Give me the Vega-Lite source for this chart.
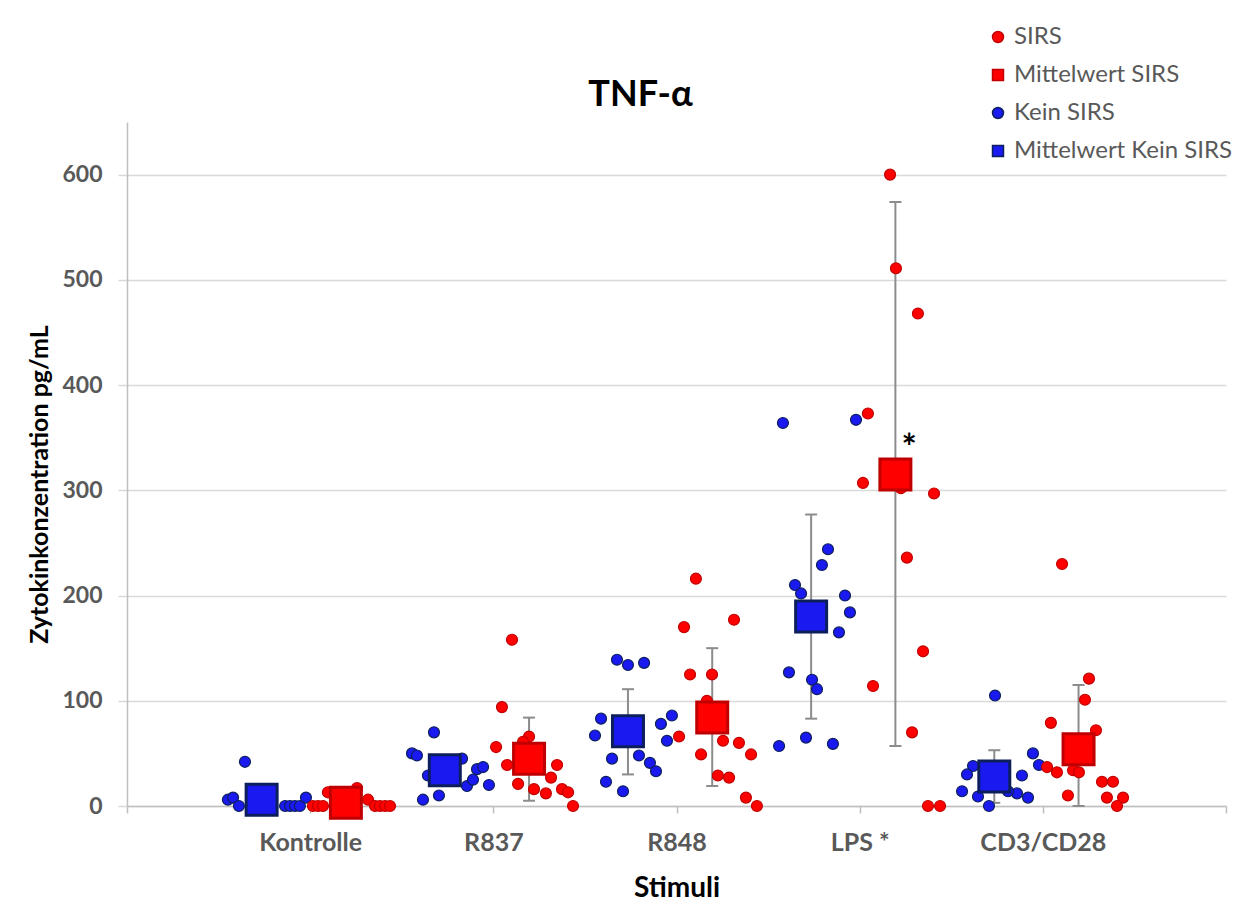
{
  "$schema": "https://vega.github.io/schema/vega-lite/v6.json",
  "width": 1099,
  "height": 684,
  "autosize": {"type": "none"},
  "padding": {"left": 127, "top": 122, "right": 25, "bottom": 108},
  "background": "white",
  "config": {
    "font": "Lato",
    "view": {"stroke": null},
    "axisX": {
      "titleFontSize": 28, "titleFontWeight": "bold", "titleColor": "#000000", "titlePadding": 19, "titleFont": "Lato",
      "labelFontSize": 25, "labelFontWeight": "bold", "labelColor": "#595959", "labelPadding": 17, "labelFont": "Lato",
      "labelFlush": false, "labelOverlap": false,
      "tickSize": 7, "tickColor": "#bfbfbf", "tickWidth": 1.5,
      "domainColor": "#bfbfbf", "domainWidth": 1.5, "grid": false
    },
    "axisY": {
      "titleFontSize": 25, "titleFontWeight": "bold", "titleColor": "#000000", "titlePadding": 9, "titleFont": "Lato",
      "labelFontSize": 23, "labelFontWeight": "bold", "labelColor": "#595959", "labelPadding": 16, "labelFont": "Lato",
      "tickSize": 9, "tickColor": "#d9d9d9", "tickWidth": 1.5,
      "domainColor": "#bfbfbf", "domainWidth": 1.5,
      "grid": true, "gridColor": "#d9d9d9", "gridWidth": 1.5
    }
  },
  "title": {"text": "TNF-α", "fontSize": 36, "fontWeight": "bold", "color": "#000000", "anchor": "middle", "dx": -36, "offset": -89, "font": "Lato"},
  "datasets": {
    "points": [
      {"group": "Kein SIRS", "stimulus": "Kontrolle", "x": 0.551, "y": 6},
      {"group": "Kein SIRS", "stimulus": "Kontrolle", "x": 0.579, "y": 8},
      {"group": "Kein SIRS", "stimulus": "Kontrolle", "x": 0.611, "y": 0},
      {"group": "Kein SIRS", "stimulus": "Kontrolle", "x": 0.644, "y": 42},
      {"group": "Kein SIRS", "stimulus": "Kontrolle", "x": 0.863, "y": 0},
      {"group": "Kein SIRS", "stimulus": "Kontrolle", "x": 0.890, "y": 0},
      {"group": "Kein SIRS", "stimulus": "Kontrolle", "x": 0.917, "y": 0},
      {"group": "Kein SIRS", "stimulus": "Kontrolle", "x": 0.944, "y": 0},
      {"group": "Kein SIRS", "stimulus": "Kontrolle", "x": 0.977, "y": 8},
      {"group": "SIRS", "stimulus": "Kontrolle", "x": 1.015, "y": 0},
      {"group": "SIRS", "stimulus": "Kontrolle", "x": 1.043, "y": 0},
      {"group": "SIRS", "stimulus": "Kontrolle", "x": 1.070, "y": 0},
      {"group": "SIRS", "stimulus": "Kontrolle", "x": 1.097, "y": 13},
      {"group": "SIRS", "stimulus": "Kontrolle", "x": 1.256, "y": 17},
      {"group": "SIRS", "stimulus": "Kontrolle", "x": 1.316, "y": 6},
      {"group": "SIRS", "stimulus": "Kontrolle", "x": 1.354, "y": 0},
      {"group": "SIRS", "stimulus": "Kontrolle", "x": 1.381, "y": 0},
      {"group": "SIRS", "stimulus": "Kontrolle", "x": 1.409, "y": 0},
      {"group": "SIRS", "stimulus": "Kontrolle", "x": 1.436, "y": 0},
      {"group": "Kein SIRS", "stimulus": "R837", "x": 1.556, "y": 50},
      {"group": "Kein SIRS", "stimulus": "R837", "x": 1.583, "y": 48},
      {"group": "Kein SIRS", "stimulus": "R837", "x": 1.676, "y": 70},
      {"group": "Kein SIRS", "stimulus": "R837", "x": 1.643, "y": 29},
      {"group": "Kein SIRS", "stimulus": "R837", "x": 1.616, "y": 6},
      {"group": "Kein SIRS", "stimulus": "R837", "x": 1.703, "y": 10},
      {"group": "Kein SIRS", "stimulus": "R837", "x": 1.829, "y": 45},
      {"group": "Kein SIRS", "stimulus": "R837", "x": 1.856, "y": 19},
      {"group": "Kein SIRS", "stimulus": "R837", "x": 1.889, "y": 25},
      {"group": "Kein SIRS", "stimulus": "R837", "x": 1.911, "y": 35},
      {"group": "Kein SIRS", "stimulus": "R837", "x": 1.944, "y": 37},
      {"group": "Kein SIRS", "stimulus": "R837", "x": 1.976, "y": 20},
      {"group": "SIRS", "stimulus": "R837", "x": 2.102, "y": 158},
      {"group": "SIRS", "stimulus": "R837", "x": 2.047, "y": 94},
      {"group": "SIRS", "stimulus": "R837", "x": 2.015, "y": 56},
      {"group": "SIRS", "stimulus": "R837", "x": 2.075, "y": 39},
      {"group": "SIRS", "stimulus": "R837", "x": 2.135, "y": 21},
      {"group": "SIRS", "stimulus": "R837", "x": 2.195, "y": 66},
      {"group": "SIRS", "stimulus": "R837", "x": 2.162, "y": 61},
      {"group": "SIRS", "stimulus": "R837", "x": 2.222, "y": 16},
      {"group": "SIRS", "stimulus": "R837", "x": 2.287, "y": 12},
      {"group": "SIRS", "stimulus": "R837", "x": 2.315, "y": 27},
      {"group": "SIRS", "stimulus": "R837", "x": 2.348, "y": 39},
      {"group": "SIRS", "stimulus": "R837", "x": 2.375, "y": 16},
      {"group": "SIRS", "stimulus": "R837", "x": 2.408, "y": 13},
      {"group": "SIRS", "stimulus": "R837", "x": 2.435, "y": 0},
      {"group": "Kein SIRS", "stimulus": "R848", "x": 2.675, "y": 139},
      {"group": "Kein SIRS", "stimulus": "R848", "x": 2.735, "y": 134},
      {"group": "Kein SIRS", "stimulus": "R848", "x": 2.823, "y": 136},
      {"group": "Kein SIRS", "stimulus": "R848", "x": 2.588, "y": 83},
      {"group": "Kein SIRS", "stimulus": "R848", "x": 2.555, "y": 67},
      {"group": "Kein SIRS", "stimulus": "R848", "x": 2.648, "y": 45},
      {"group": "Kein SIRS", "stimulus": "R848", "x": 2.615, "y": 23},
      {"group": "Kein SIRS", "stimulus": "R848", "x": 2.708, "y": 14},
      {"group": "Kein SIRS", "stimulus": "R848", "x": 2.795, "y": 48},
      {"group": "Kein SIRS", "stimulus": "R848", "x": 2.855, "y": 41},
      {"group": "Kein SIRS", "stimulus": "R848", "x": 2.888, "y": 33},
      {"group": "Kein SIRS", "stimulus": "R848", "x": 2.915, "y": 78},
      {"group": "Kein SIRS", "stimulus": "R848", "x": 2.975, "y": 86},
      {"group": "Kein SIRS", "stimulus": "R848", "x": 2.948, "y": 62},
      {"group": "SIRS", "stimulus": "R848", "x": 3.106, "y": 216},
      {"group": "SIRS", "stimulus": "R848", "x": 3.041, "y": 170},
      {"group": "SIRS", "stimulus": "R848", "x": 3.314, "y": 177},
      {"group": "SIRS", "stimulus": "R848", "x": 3.074, "y": 125},
      {"group": "SIRS", "stimulus": "R848", "x": 3.194, "y": 125},
      {"group": "SIRS", "stimulus": "R848", "x": 3.166, "y": 100},
      {"group": "SIRS", "stimulus": "R848", "x": 3.014, "y": 66},
      {"group": "SIRS", "stimulus": "R848", "x": 3.134, "y": 49},
      {"group": "SIRS", "stimulus": "R848", "x": 3.226, "y": 29},
      {"group": "SIRS", "stimulus": "R848", "x": 3.287, "y": 27},
      {"group": "SIRS", "stimulus": "R848", "x": 3.254, "y": 62},
      {"group": "SIRS", "stimulus": "R848", "x": 3.341, "y": 60},
      {"group": "SIRS", "stimulus": "R848", "x": 3.407, "y": 49},
      {"group": "SIRS", "stimulus": "R848", "x": 3.379, "y": 8},
      {"group": "SIRS", "stimulus": "R848", "x": 3.439, "y": 0},
      {"group": "Kein SIRS", "stimulus": "LPS", "x": 3.581, "y": 364},
      {"group": "Kein SIRS", "stimulus": "LPS", "x": 3.980, "y": 367},
      {"group": "Kein SIRS", "stimulus": "LPS", "x": 3.827, "y": 244},
      {"group": "Kein SIRS", "stimulus": "LPS", "x": 3.794, "y": 229},
      {"group": "Kein SIRS", "stimulus": "LPS", "x": 3.647, "y": 210},
      {"group": "Kein SIRS", "stimulus": "LPS", "x": 3.680, "y": 202},
      {"group": "Kein SIRS", "stimulus": "LPS", "x": 3.920, "y": 200},
      {"group": "Kein SIRS", "stimulus": "LPS", "x": 3.947, "y": 184},
      {"group": "Kein SIRS", "stimulus": "LPS", "x": 3.887, "y": 165},
      {"group": "Kein SIRS", "stimulus": "LPS", "x": 3.614, "y": 127},
      {"group": "Kein SIRS", "stimulus": "LPS", "x": 3.740, "y": 120},
      {"group": "Kein SIRS", "stimulus": "LPS", "x": 3.767, "y": 111},
      {"group": "Kein SIRS", "stimulus": "LPS", "x": 3.560, "y": 57},
      {"group": "Kein SIRS", "stimulus": "LPS", "x": 3.707, "y": 65},
      {"group": "Kein SIRS", "stimulus": "LPS", "x": 3.854, "y": 59},
      {"group": "SIRS", "stimulus": "LPS", "x": 4.166, "y": 600},
      {"group": "SIRS", "stimulus": "LPS", "x": 4.198, "y": 511},
      {"group": "SIRS", "stimulus": "LPS", "x": 4.318, "y": 468},
      {"group": "SIRS", "stimulus": "LPS", "x": 4.045, "y": 373},
      {"group": "SIRS", "stimulus": "LPS", "x": 4.018, "y": 307},
      {"group": "SIRS", "stimulus": "LPS", "x": 4.225, "y": 302},
      {"group": "SIRS", "stimulus": "LPS", "x": 4.406, "y": 297},
      {"group": "SIRS", "stimulus": "LPS", "x": 4.258, "y": 236},
      {"group": "SIRS", "stimulus": "LPS", "x": 4.346, "y": 147},
      {"group": "SIRS", "stimulus": "LPS", "x": 4.073, "y": 114},
      {"group": "SIRS", "stimulus": "LPS", "x": 4.286, "y": 70},
      {"group": "SIRS", "stimulus": "LPS", "x": 4.373, "y": 0},
      {"group": "SIRS", "stimulus": "LPS", "x": 4.439, "y": 0},
      {"group": "Kein SIRS", "stimulus": "CD3/CD28", "x": 4.739, "y": 105},
      {"group": "Kein SIRS", "stimulus": "CD3/CD28", "x": 4.619, "y": 38},
      {"group": "Kein SIRS", "stimulus": "CD3/CD28", "x": 4.586, "y": 30},
      {"group": "Kein SIRS", "stimulus": "CD3/CD28", "x": 4.559, "y": 14},
      {"group": "Kein SIRS", "stimulus": "CD3/CD28", "x": 4.646, "y": 9},
      {"group": "Kein SIRS", "stimulus": "CD3/CD28", "x": 4.706, "y": 0},
      {"group": "Kein SIRS", "stimulus": "CD3/CD28", "x": 4.886, "y": 29},
      {"group": "Kein SIRS", "stimulus": "CD3/CD28", "x": 4.946, "y": 50},
      {"group": "Kein SIRS", "stimulus": "CD3/CD28", "x": 4.979, "y": 39},
      {"group": "Kein SIRS", "stimulus": "CD3/CD28", "x": 4.859, "y": 12},
      {"group": "Kein SIRS", "stimulus": "CD3/CD28", "x": 4.919, "y": 8},
      {"group": "Kein SIRS", "stimulus": "CD3/CD28", "x": 4.810, "y": 14},
      {"group": "SIRS", "stimulus": "CD3/CD28", "x": 5.105, "y": 230},
      {"group": "SIRS", "stimulus": "CD3/CD28", "x": 5.252, "y": 121},
      {"group": "SIRS", "stimulus": "CD3/CD28", "x": 5.230, "y": 101},
      {"group": "SIRS", "stimulus": "CD3/CD28", "x": 5.044, "y": 79},
      {"group": "SIRS", "stimulus": "CD3/CD28", "x": 5.290, "y": 72},
      {"group": "SIRS", "stimulus": "CD3/CD28", "x": 5.023, "y": 37},
      {"group": "SIRS", "stimulus": "CD3/CD28", "x": 5.077, "y": 32},
      {"group": "SIRS", "stimulus": "CD3/CD28", "x": 5.165, "y": 34},
      {"group": "SIRS", "stimulus": "CD3/CD28", "x": 5.197, "y": 32},
      {"group": "SIRS", "stimulus": "CD3/CD28", "x": 5.137, "y": 10},
      {"group": "SIRS", "stimulus": "CD3/CD28", "x": 5.323, "y": 23},
      {"group": "SIRS", "stimulus": "CD3/CD28", "x": 5.383, "y": 23},
      {"group": "SIRS", "stimulus": "CD3/CD28", "x": 5.350, "y": 8},
      {"group": "SIRS", "stimulus": "CD3/CD28", "x": 5.438, "y": 8},
      {"group": "SIRS", "stimulus": "CD3/CD28", "x": 5.405, "y": 0}
    ],
    "means": [
      {"group": "Mittelwert Kein SIRS", "stimulus": "Kontrolle", "x": 0.735, "y": 6, "lower": 0, "upper": 14},
      {"group": "Mittelwert SIRS", "stimulus": "Kontrolle", "x": 1.195, "y": 3, "lower": 0, "upper": 8},
      {"group": "Mittelwert Kein SIRS", "stimulus": "R837", "x": 1.735, "y": 34, "lower": 22, "upper": 46},
      {"group": "Mittelwert SIRS", "stimulus": "R837", "x": 2.195, "y": 45, "lower": 5, "upper": 84},
      {"group": "Mittelwert Kein SIRS", "stimulus": "R848", "x": 2.735, "y": 71, "lower": 30, "upper": 111},
      {"group": "Mittelwert SIRS", "stimulus": "R848", "x": 3.195, "y": 84, "lower": 19, "upper": 150},
      {"group": "Mittelwert Kein SIRS", "stimulus": "LPS", "x": 3.735, "y": 180, "lower": 83, "upper": 277},
      {"group": "Mittelwert SIRS", "stimulus": "LPS", "x": 4.195, "y": 315, "lower": 57, "upper": 574},
      {"group": "Mittelwert Kein SIRS", "stimulus": "CD3/CD28", "x": 4.735, "y": 28, "lower": 3, "upper": 53},
      {"group": "Mittelwert SIRS", "stimulus": "CD3/CD28", "x": 5.195, "y": 54, "lower": 0, "upper": 115}
    ],
    "notes": [
      {"x": 4.27, "y": 329, "label": "*"}
    ]
  },
  "encoding": {
    "x": {
      "field": "x", "type": "quantitative",
      "scale": {"domain": [0, 6], "nice": false, "zero": false},
      "axis": {
        "values": [0, 1, 2, 3, 4, 5, 6],
        "labelExpr": "['', 'Kontrolle', 'R837', 'R848', 'LPS *', 'CD3/CD28', ''][datum.value]",
        "title": "Stimuli"
      }
    }
  },
  "layer": [
    {
      "data": {"name": "means"},
      "mark": {"type": "rule", "color": "#8c8c8c", "strokeWidth": 2},
      "encoding": {
        "y": {"field": "lower", "type": "quantitative", "scale": {"domain": [0, 650], "nice": false},
          "axis": {"values": [0, 100, 200, 300, 400, 500, 600], "title": "Zytokinkonzentration pg/mL", "titleY": 362}},
        "y2": {"field": "upper"}
      }
    },
    {
      "data": {"name": "means"},
      "mark": {"type": "tick", "orient": "horizontal", "color": "#8c8c8c", "thickness": 2, "size": 12, "opacity": 1},
      "encoding": {
        "y": {"field": "lower", "type": "quantitative", "scale": {"domain": [0, 650], "nice": false},
          "axis": {"values": [0, 100, 200, 300, 400, 500, 600], "title": "Zytokinkonzentration pg/mL", "titleY": 362}}
      }
    },
    {
      "data": {"name": "means"},
      "mark": {"type": "tick", "orient": "horizontal", "color": "#8c8c8c", "thickness": 2, "size": 12, "opacity": 1},
      "encoding": {
        "y": {"field": "upper", "type": "quantitative", "scale": {"domain": [0, 650], "nice": false},
          "axis": {"values": [0, 100, 200, 300, 400, 500, 600], "title": "Zytokinkonzentration pg/mL", "titleY": 362}}
      }
    },
    {
      "data": {"name": "points"},
      "mark": {"type": "point", "filled": true, "opacity": 1, "size": 120, "strokeWidth": 1.2},
      "encoding": {
        "y": {"field": "y", "type": "quantitative", "scale": {"domain": [0, 650], "nice": false},
          "axis": {"values": [0, 100, 200, 300, 400, 500, 600], "title": "Zytokinkonzentration pg/mL", "titleY": 362}},
        "color": {"field": "group", "type": "nominal",
          "scale": {"domain": ["SIRS", "Mittelwert SIRS", "Kein SIRS", "Mittelwert Kein SIRS"], "range": ["#ff0000", "#ff0000", "#1a1af0", "#1a1af0"]},
          "legend": {
            "title": null, "orient": "none", "legendX": 859, "legendY": -97,
            "labelFontSize": 24, "labelColor": "#595959", "labelFont": "Lato", "labelLimit": 400,
            "rowPadding": 14, "symbolSize": 120,
            "encode": {"symbols": {"update": {
              "size": {"signal": "indexof(datum.value, 'Mittelwert') >= 0 ? 290 : 110"},
              "strokeWidth": {"signal": "indexof(datum.value, 'Mittelwert') >= 0 ? 2.5 : 1"},
              "opacity": {"value": 1}
            }}}
          }
        },
        "shape": {"field": "group", "type": "nominal",
          "scale": {"domain": ["SIRS", "Mittelwert SIRS", "Kein SIRS", "Mittelwert Kein SIRS"], "range": ["circle", "square", "circle", "square"]},
          "legend": {"title": null}
        },
        "stroke": {"field": "group", "type": "nominal",
          "scale": {"domain": ["SIRS", "Mittelwert SIRS", "Kein SIRS", "Mittelwert Kein SIRS"], "range": ["#c00000", "#c00000", "#0c1f5c", "#0c1f5c"]},
          "legend": {"title": null}
        }
      }
    },
    {
      "data": {"name": "means"},
      "mark": {"type": "point", "filled": true, "opacity": 1, "size": 960, "strokeWidth": 3},
      "encoding": {
        "y": {"field": "y", "type": "quantitative", "scale": {"domain": [0, 650], "nice": false},
          "axis": {"values": [0, 100, 200, 300, 400, 500, 600], "title": "Zytokinkonzentration pg/mL", "titleY": 362}},
        "color": {"field": "group", "type": "nominal"},
        "shape": {"field": "group", "type": "nominal"},
        "stroke": {"field": "group", "type": "nominal"}
      }
    },
    {
      "data": {"name": "notes"},
      "mark": {"type": "text", "fontSize": 36, "fontWeight": "bold", "color": "#000000", "baseline": "alphabetic", "align": "center", "font": "Lato"},
      "encoding": {
        "y": {"field": "y", "type": "quantitative", "scale": {"domain": [0, 650], "nice": false},
          "axis": {"values": [0, 100, 200, 300, 400, 500, 600], "title": "Zytokinkonzentration pg/mL", "titleY": 362}},
        "text": {"field": "label"}
      }
    }
  ]
}
